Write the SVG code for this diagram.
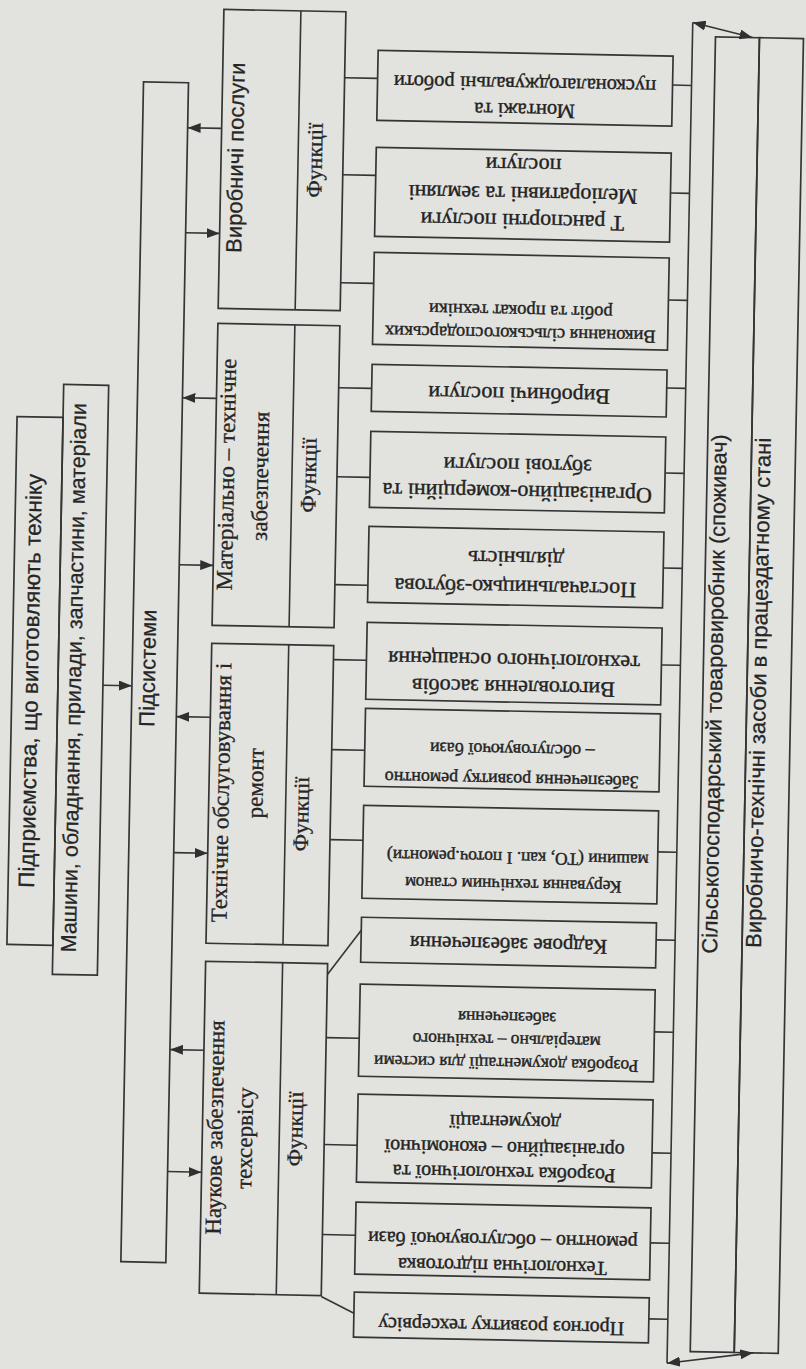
<svg xmlns="http://www.w3.org/2000/svg" width="806" height="1369" viewBox="0 0 806 1369">
<style>
.bx{fill:none;stroke:#353535;stroke-width:1.7}
.ln{fill:none;stroke:#353535;stroke-width:1.6}
.ss{font-family:"Liberation Sans",Arial,sans-serif;fill:#262626;stroke:#262626;stroke-width:0.25}
.sf{font-family:"Liberation Serif","Times New Roman",serif;fill:#262626;stroke:#262626;stroke-width:0.3}
.fx{font-family:"Liberation Serif","Times New Roman",serif;fill:#222;stroke:#222;stroke-width:0.4;text-anchor:middle;dominant-baseline:central}
</style>
<defs>
<marker id="ah" markerWidth="13" markerHeight="10" refX="13" refY="5" orient="auto-start-reverse" markerUnits="userSpaceOnUse">
<path d="M0,0 L13,5 L0,10 z" fill="#303030"/>
</marker>
</defs>
<rect width="806" height="1369" fill="#e2e2de"/>
<g transform="rotate(1.1 403 684)">

<g id="enterprises">
<rect class="bx" x="12" y="424" width="46" height="528"/>
<text class="ss" font-size="22.5" text-anchor="middle" transform="translate(38,688) rotate(-90)">Підприємства, що виготовляють техніку</text>
</g>

<g id="machines">
<rect class="bx" x="58" y="391" width="45" height="590"/>
<text class="ss" font-size="21.5" text-anchor="middle" transform="translate(81,684) rotate(-90)">Машини, обладнання, прилади, запчастини, матеріали</text>
</g>

<g id="subsystems">
<rect class="bx" x="132" y="87" width="45" height="1180"/>
<text class="ss" font-size="22" text-anchor="middle" transform="translate(155,673) rotate(-90)">Підсистеми</text>
</g>

<g id="s1">
<rect class="bx" x="211" y="13" width="122" height="299"/>
<line class="ln" x1="288" y1="13" x2="288" y2="312"/>
<text class="ss" font-size="22" text-anchor="middle" transform="translate(233,161) rotate(-90)">Виробничі послуги</text>
<text class="sf" font-size="22" text-anchor="middle" transform="translate(312,162) rotate(-90)">Функції</text>
</g>

<g id="s2">
<rect class="bx" x="211" y="327" width="122" height="302"/>
<line class="ln" x1="288" y1="327" x2="288" y2="629"/>
<text class="sf" font-size="23" text-anchor="middle" transform="translate(230,478) rotate(-90)">Матеріально – технічне</text>
<text class="sf" font-size="23" text-anchor="middle" transform="translate(264,479) rotate(-90)">забезпечення</text>
<text class="sf" font-size="22" text-anchor="middle" transform="translate(312,477) rotate(-90)">Функції</text>
</g>

<g id="s3">
<rect class="bx" x="211" y="647" width="122" height="300"/>
<line class="ln" x1="288" y1="647" x2="288" y2="947"/>
<text class="sf" font-size="23" text-anchor="middle" transform="translate(231,796) rotate(-90)">Технічне обслуговування і</text>
<text class="sf" font-size="23" text-anchor="middle" transform="translate(265,786) rotate(-90)">ремонт</text>
<text class="sf" font-size="22" text-anchor="middle" transform="translate(311,816) rotate(-90)">Функції</text>
</g>

<g id="s4">
<rect class="bx" x="211" y="965" width="122" height="332"/>
<line class="ln" x1="288" y1="965" x2="288" y2="1297"/>
<text class="sf" font-size="23" text-anchor="middle" transform="translate(231,1131) rotate(-90)">Наукове забезпечення</text>
<text class="sf" font-size="23" text-anchor="middle" transform="translate(261,1141) rotate(-90)">техсервісу</text>
<text class="sf" font-size="22" text-anchor="middle" transform="translate(311,1131) rotate(-90)">Функції</text>
</g>

<g id="f1">
<rect class="bx" x="366" y="51" width="295" height="70"/>
<g transform="rotate(180 513.5 86)">
<text class="fx" font-size="20.5" x="513.5" y="63.5">Монтажі та</text>
<text class="fx" font-size="20.5" x="513.5" y="89.5">пусконалагоджувальні роботи</text>
</g>
</g>

<g id="f2">
<rect class="bx" x="366" y="148" width="295" height="89"/>
<g transform="rotate(180 513.5 192.5)">
<text class="fx" font-size="22" x="513.5" y="165.5">Т ранспортні послуги</text>
<text class="fx" font-size="22" x="513.5" y="192.5">Меліоративні та земляні</text>
<text class="fx" font-size="22" x="513.5" y="221.5">послуги</text>
</g>
</g>

<g id="f3">
<rect class="bx" x="366" y="253" width="295" height="92"/>
<g transform="rotate(180 513.5 299)">
<text class="fx" font-size="18.5" x="513.5" y="266">Виконання сільськогосподарських</text>
<text class="fx" font-size="18.5" x="513.5" y="289">робіт та прокат техніки</text>
</g>
</g>

<g id="f4">
<rect class="bx" x="366" y="365" width="295" height="47"/>
<g transform="rotate(180 513.5 388.5)">
<text class="fx" font-size="22" x="513.5" y="384">Виробничі послуги</text>
</g>
</g>

<g id="f5">
<rect class="bx" x="366" y="432" width="295" height="76"/>
<g transform="rotate(180 513.5 470)">
<text class="fx" font-size="22" x="513.5" y="449">Організаційно-комерційні та</text>
<text class="fx" font-size="22" x="513.5" y="476">збутові послуги</text>
</g>
</g>

<g id="f6">
<rect class="bx" x="366" y="527" width="295" height="76"/>
<g transform="rotate(180 513.5 565)">
<text class="fx" font-size="22" x="513.5" y="544">Постачальницько-збутова</text>
<text class="fx" font-size="22" x="513.5" y="573">діяльність</text>
</g>
</g>

<g id="f7">
<rect class="bx" x="366" y="623" width="295" height="77"/>
<g transform="rotate(180 513.5 661.5)">
<text class="fx" font-size="22" x="513.5" y="637">Виготовлення засобів</text>
<text class="fx" font-size="22" x="513.5" y="664">технологічного оснащення</text>
</g>
</g>

<g id="f8">
<rect class="bx" x="366" y="709" width="295" height="78"/>
<g transform="rotate(180 513.5 748)">
<text class="fx" font-size="18" x="513.5" y="718">Забезпечення розвитку ремонтно</text>
<text class="fx" font-size="18" x="513.5" y="748">– обслуговуючої бази</text>
</g>
</g>

<g id="f9">
<rect class="bx" x="366" y="806" width="295" height="93"/>
<g transform="rotate(180 513.5 852.5)">
<text class="fx" font-size="17.5" x="510" y="822">Керування технічним станом</text>
<text class="fx" font-size="17.5" x="506" y="849">машини (ТО, кап. І поточ.ремонти)</text>
</g>
</g>

<g id="f10">
<rect class="bx" x="366" y="918" width="295" height="45"/>
<g transform="rotate(180 513.5 940.5)">
<text class="fx" font-size="21" x="513.5" y="938">Кадрове забезпечення</text>
</g>
</g>

<g id="f11">
<rect class="bx" x="366" y="985" width="295" height="92"/>
<g transform="rotate(180 513.5 1031)">
<text class="fx" font-size="17.5" x="513.5" y="1000">Розробка документації для системи</text>
<text class="fx" font-size="17.5" x="513.5" y="1023">матеріально – технічного</text>
<text class="fx" font-size="17.5" x="513.5" y="1046">забезпечення</text>
</g>
</g>

<g id="f12">
<rect class="bx" x="366" y="1095" width="295" height="88"/>
<g transform="rotate(180 513.5 1139)">
<text class="fx" font-size="20" x="513.5" y="1106">Розробка технологічної та</text>
<text class="fx" font-size="20" x="513.5" y="1131">організаційно – економічної</text>
<text class="fx" font-size="20" x="513.5" y="1157">документації</text>
</g>
</g>

<g id="f13">
<rect class="bx" x="366" y="1203" width="295" height="72"/>
<g transform="rotate(180 513.5 1239)">
<text class="fx" font-size="20" x="513.5" y="1213">Технологічна підготовка</text>
<text class="fx" font-size="20" x="513.5" y="1239">ремонтно – обслуговуючої бази</text>
</g>
</g>

<g id="f14">
<rect class="bx" x="366" y="1293" width="295" height="45"/>
<g transform="rotate(180 513.5 1315.5)">
<text class="fx" font-size="20" x="513.5" y="1306">Прогноз розвитку техсервісу</text>
</g>
</g>

<g id="producer">
<rect class="bx" x="703" y="31" width="44" height="1315"/>
<text class="ss" font-size="21.7" text-anchor="middle" transform="translate(722,688) rotate(-90)">Сільськогосподарський товаровиробник (споживач)</text>
</g>

<g id="means">
<rect class="bx" x="747" y="31" width="44" height="1315"/>
<text class="ss" font-size="22" text-anchor="middle" transform="translate(766,686) rotate(-90)">Виробничо-технічні засоби в працездатному стані</text>
</g>

<g id="connectors">
<line class="ln" x1="103" y1="691" x2="132" y2="691" marker-end="url(#ah)"/>
<line class="ln" x1="211" y1="132" x2="177" y2="132" marker-end="url(#ah)"/>
<line class="ln" x1="177" y1="237" x2="211" y2="237" marker-end="url(#ah)"/>
<line class="ln" x1="211" y1="402" x2="177" y2="402" marker-end="url(#ah)"/>
<line class="ln" x1="177" y1="569" x2="211" y2="569" marker-end="url(#ah)"/>
<line class="ln" x1="211" y1="721" x2="177" y2="721" marker-end="url(#ah)"/>
<line class="ln" x1="177" y1="857" x2="211" y2="857" marker-end="url(#ah)"/>
<line class="ln" x1="211" y1="1054" x2="177" y2="1054" marker-end="url(#ah)"/>
<line class="ln" x1="177" y1="1176" x2="211" y2="1176" marker-end="url(#ah)"/>
<path class="ln" d="M333,79H366M333,176H366M333,284H366M333,389H366M333,478H366M333,586H366M333,661H366M333,751H366M333,841H366M333,976L366,931M333,1039H366M333,1146H366M333,1236H366M333,1298L366,1314"/>
<path class="ln" d="M661,80H680M661,188H680M661,295H680M661,383H680M661,468H680M661,563H680M661,660H680M661,847H680M661,935H680M661,1027H680M661,1148H680M661,1238H680M661,1314H680"/>
<line class="ln" x1="680" y1="17" x2="680" y2="1358"/>
<line class="ln" x1="680" y1="17" x2="740" y2="31" marker-start="url(#ah)" marker-end="url(#ah)"/>
<line class="ln" x1="680" y1="1358" x2="766" y2="1346" marker-start="url(#ah)" marker-end="url(#ah)"/>
</g>

</g>
</svg>
